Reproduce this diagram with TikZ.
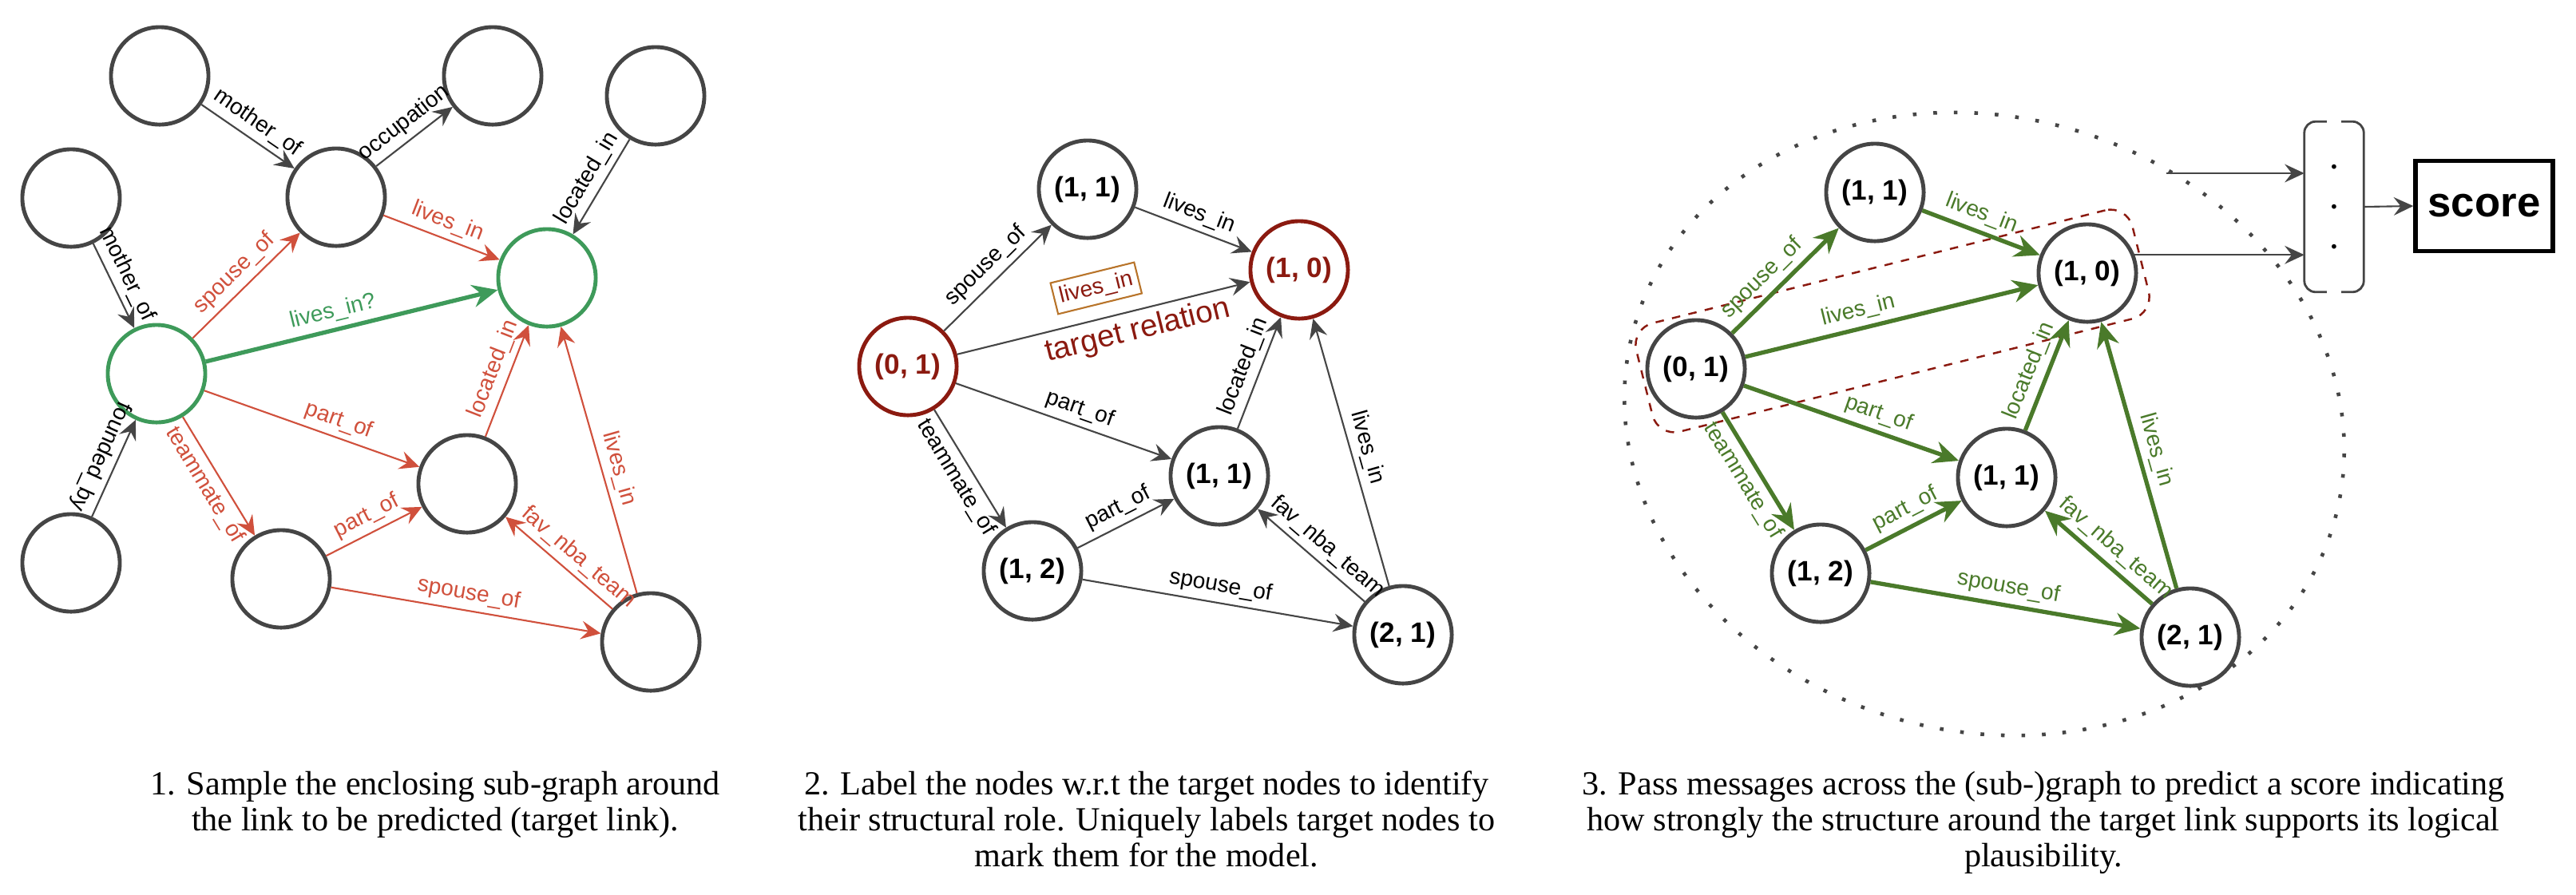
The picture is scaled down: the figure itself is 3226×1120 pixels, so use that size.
\documentclass[tikz,border=0pt]{standalone}
\usepackage{fontspec}
\setmainfont{Liberation Serif}
\newfontfamily\sansf{Liberation Sans}
\usetikzlibrary{arrows.meta, positioning}
\definecolor{nodegray}{HTML}{454545}
\definecolor{edgered}{HTML}{D0503C}
\definecolor{linkgreen}{HTML}{3E9A5A}
\definecolor{targetred}{HTML}{8B1A10}
\definecolor{boxorange}{HTML}{B8742A}
\definecolor{msggreen}{HTML}{4A7A2A}

\begin{document}
\begin{tikzpicture}
      [x=0.01cm, y=0.01cm,
      vertex/.style={circle, draw=nodegray, fill=white, line width=1.4pt,
        minimum size=1.22cm, inner sep=0pt, font=\sansf\bfseries\fontsize{10}{12}\selectfont},
      tvertex/.style={vertex, draw=linkgreen},
      rvertex/.style={vertex, draw=targetred, text=targetred},
      arr/.style={-{Stealth[length=7pt, width=6.5pt, inset=2.5pt]}, line width=0.6pt, draw=nodegray},
      rarr/.style={arr, draw=edgered, fill=edgered},
      garr/.style={-{Stealth[length=9pt, width=8pt, inset=3pt]}, line width=1.5pt},
      lbl/.style={font=\sansf\fontsize{8}{9}\selectfont, sloped, inner sep=2pt},
      caption/.style={font=\fontsize{12}{12.8}\selectfont, align=center, anchor=north, inner sep=0pt}]
      \useasboundingbox (0,0) rectangle (3226,-1120);

      % panel 1: the enclosing sub-graph
      \node (a) at (200, -95) [vertex] {};
      \node (b) at (617, -95) [vertex] {};
      \node (c) at (821, -120) [vertex] {};
      \node (d) at (421, -247) [vertex] {};
      \node (e) at (89, -248) [vertex] {};
      \node (h1) at (196, -468) [tvertex] {};
      \node (t1) at (685, -348) [tvertex] {};
      \node (f) at (89, -705) [vertex] {};
      \node (g) at (352, -725) [vertex] {};
      \node (k) at (585, -606) [vertex] {};
      \node (m) at (815, -804) [vertex] {};
      \draw[arr] (a) -- node[lbl, above] {mother\_of} (d);
      \draw[arr] (d) -- node[lbl, above] {occupation} (b);
      \draw[arr] (c) -- node[lbl, above] {located\_in} (t1);
      \draw[arr] (e) -- node[lbl, above, pos=.45] {mother\_of} (h1);
      \draw[arr] (f) -- node[lbl, below, rotate=180, pos=.55] {founded\_by} (h1);
      \draw[rarr] (h1) -- node[lbl, above, text=edgered] {spouse\_of} (d);
      \draw[rarr] (d) -- node[lbl, above, text=edgered] {lives\_in} (t1);
      \draw[garr, draw=linkgreen, fill=linkgreen] (h1) -- node[lbl, above, pos=.45, text=linkgreen] {lives\_in?} (t1);
      \draw[rarr] (h1) -- node[lbl, above, pos=.6, text=edgered] {part\_of} (k);
      \draw[rarr] (h1) -- node[lbl, below, text=edgered] {teammate\_of} (g);
      \draw[rarr] (g) -- node[lbl, above, text=edgered] {part\_of} (k);
      \draw[rarr] (k) -- node[lbl, above, pos=.55, text=edgered] {located\_in} (t1);
      \draw[rarr] (g) -- node[lbl, above, text=edgered] {spouse\_of} (m);
      \draw[rarr] (m) -- node[lbl, above, pos=.42, text=edgered] {fav\_nba\_team} (k);
      \draw[rarr] (m) -- node[lbl, above, pos=.45, text=edgered] {lives\_in} (t1);

      % panel 2: node labels
      \node (p11a) at (1362, -237) [vertex] {(1, 1)};
      \node (p10) at (1627, -338) [rvertex] {(1, 0)};
      \node (p01) at (1137, -459) [rvertex] {(0, 1)};
      \node (p11b) at (1527, -596) [vertex] {(1, 1)};
      \node (p12) at (1293, -715) [vertex] {(1, 2)};
      \node (p21) at (1757, -795) [vertex] {(2, 1)};
      \draw[arr] (p01) -- node[lbl, above] {spouse\_of} (p11a);
      \draw[arr] (p11a) -- node[lbl, above] {lives\_in} (p10);
      \draw[arr] (p01) -- node[lbl, above=5pt, pos=.5, draw=boxorange, line width=0.6pt, text=targetred, inner sep=2pt] {lives\_in}
        node[lbl, below, pos=.6, text=targetred, font=\sansf\fontsize{11}{12}\selectfont] {target relation} (p10);
      \draw[arr] (p01) -- node[lbl, above, pos=.55] {part\_of} (p11b);
      \draw[arr] (p01) -- node[lbl, below] {teammate\_of} (p12);
      \draw[arr] (p12) -- node[lbl, above] {part\_of} (p11b);
      \draw[arr] (p12) -- node[lbl, above] {spouse\_of} (p21);
      \draw[arr] (p21) -- node[lbl, above, pos=.45] {fav\_nba\_team} (p11b);
      \draw[arr] (p11b) -- node[lbl, above] {located\_in} (p10);
      \draw[arr] (p21) -- node[lbl, above] {lives\_in} (p10);

      % panel 3: message passing
      \draw[nodegray, line width=1.3pt, dash pattern=on 1.3pt off 6pt, rotate around={-15:(2485,-531)}]
        (2485,-531) ellipse [x radius=455, y radius=385];
      \node (tbox) at (2370, -402) [draw=targetred, dashed, line width=0.7pt, rounded corners=8pt,
        rotate=14, minimum width=6.4cm, minimum height=1.4cm] {};
      \node (q11a) at (2348, -241) [vertex] {(1, 1)};
      \node (q10) at (2614, -342) [vertex] {(1, 0)};
      \node (q01) at (2124, -462) [vertex] {(0, 1)};
      \node (q11b) at (2513, -598) [vertex] {(1, 1)};
      \node (q12) at (2280, -718) [vertex] {(1, 2)};
      \node (q21) at (2743, -798) [vertex] {(2, 1)};
      \begin{scope}[every path/.style={garr, draw=msggreen, fill=msggreen}, every node/.style={text=msggreen}]
        \draw (q01) -- node[lbl, above, pos=.4] {spouse\_of} (q11a);
        \draw (q11a) -- node[lbl, above, pos=.45] {lives\_in} (q10);
        \draw (q01) -- node[lbl, above, pos=.4] {lives\_in} (q10);
        \draw (q01) -- node[lbl, above, pos=.6] {part\_of} (q11b);
        \draw (q01) -- node[lbl, below] {teammate\_of} (q12);
        \draw (q12) -- node[lbl, above] {part\_of} (q11b);
        \draw (q12) -- node[lbl, above] {spouse\_of} (q21);
        \draw (q21) -- node[lbl, above, pos=.45] {fav\_nba\_team} (q11b);
        \draw (q11b) -- node[lbl, above, pos=.48] {located\_in} (q10);
        \draw (q21) -- node[lbl, above] {lives\_in} (q10);
      \end{scope}

      % readout
      \node (vec) at (2923, -259) [minimum width=0.73cm, minimum height=2.12cm, inner sep=0pt,
        align=center, font=\bfseries\fontsize{10}{14.2}\selectfont] {.\\.\\.};
      \draw[nodegray, line width=0.8pt, rounded corners=4pt]
        ([xshift=8pt]vec.north west) -- (vec.north west) -- (vec.south west) -- ([xshift=8pt]vec.south west);
      \draw[nodegray, line width=0.8pt, rounded corners=4pt]
        ([xshift=-8pt]vec.north east) -- (vec.north east) -- (vec.south east) -- ([xshift=-8pt]vec.south east);
      \node (score) at (3111, -258) [draw=black, line width=1.5pt, minimum width=1.72cm, minimum height=1.13cm,
        font=\sansf\bfseries\fontsize{15}{16}\selectfont] {score};
      \coordinate (hin) at (2713, -217);
      \draw[arr] (hin) -- (hin -| vec.west);
      \draw[arr] (q10.21) -- (q10.21 -| vec.west);
      \draw[arr] (vec.east) -- (score.west);

      % captions
      \node (cap1) at (545, -965) [caption] {1. Sample the enclosing sub-graph around\\the link to be predicted (target link).};
      \node (cap2) at (1436, -965) [caption] {2. Label the nodes w.r.t the target nodes to identify\\their structural role. Uniquely labels target nodes to\\mark them for the model.};
      \node (cap3) at (2559, -965) [caption] {3. Pass messages across the (sub-)graph to predict a score indicating\\how strongly the structure around the target link supports its logical\\plausibility.};
\end{tikzpicture}
\end{document}
